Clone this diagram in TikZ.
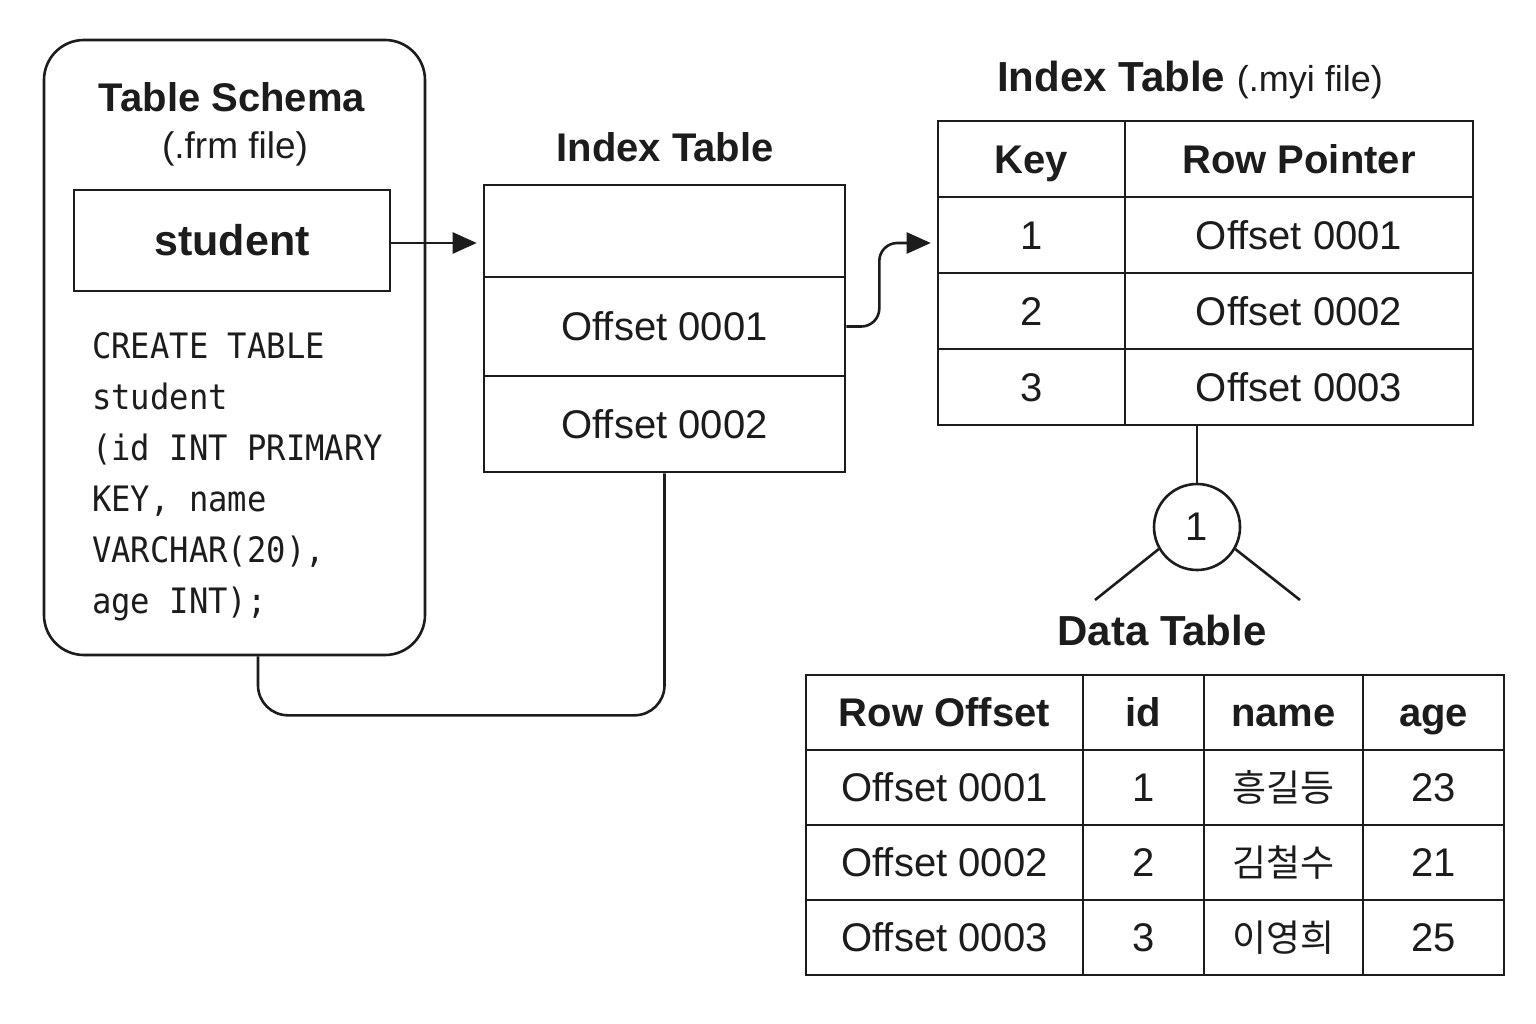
\documentclass[tikz,border=0pt]{standalone}
\usepackage{fontspec}
\setmainfont{Liberation Sans}
\newfontfamily\codefont{DejaVu Sans Mono}[FakeStretch=0.92]
\newfontfamily\krfont{Noto Sans CJK KR}
\usetikzlibrary{arrows.meta}
\definecolor{ink}{HTML}{1C1C1C}
\tikzset{
  ln/.style={draw=ink, line width=2.6pt},
  cell/.style 2 args={ln, inner sep=0pt, minimum width=#1, minimum height=#2,
    text height=28.6pt, text depth=0pt, anchor=center},
  ttl/.style={font=\fontsize{40}{48}\selectfont\bfseries, text=ink},
  txt/.style={font=\fontsize{40}{48}\selectfont, text=ink},
  sub/.style={font=\fontsize{37}{44}\selectfont, text=ink},
  krt/.style={font=\fontsize{37}{44}\krfont, text=ink, text height=27pt},
  code/.style={font=\fontsize{35}{51}\codefont, text=ink, anchor=base west, inner sep=0pt},
  arr/.style={ln, -{Triangle[length=24pt,width=21pt]}, shorten >=6pt},
}
\begin{document}
\begin{tikzpicture}[x=1pt,y=-1pt]
\useasboundingbox (0,0) rectangle (1536,1024);
\fill[white] (0,0) rectangle (1536,1024);

% Table schema
\node[ln, rounded corners=40pt, minimum width=381pt, minimum height=615pt, inner sep=0pt] (schema) at (234.5,347.5) {};
\node[ttl] (schemaT) at (232,97) {Table Schema};
\node[sub] (schemaS) at (235,149) {(.frm file)};
\node[cell={316pt}{101pt}, ttl, font=\fontsize{43}{50}\selectfont\bfseries, text height=30.8pt] (student) at (232,240.5) {student};
\node[code] (sql1) at (92,358) {CREATE TABLE};
\node[code] (sql2) at (92,409) {student};
\node[code] (sql3) at (92,460) {(id INT PRIMARY};
\node[code] (sql4) at (92,511) {KEY, name};
\node[code] (sql5) at (92,562) {VARCHAR(20),};
\node[code] (sql6) at (92,613) {age INT);};

% Index table (middle)
\node[ttl] (idxT) at (665,147) {Index Table};
\node[cell={361pt}{92pt}] (i1) at (664.5,231) {};
\node[cell={361pt}{99pt}, txt] (i2) at (664.5,326.5) {Offset 0001};
\node[cell={361pt}{96pt}, txt] (i3) at (664.5,424) {Offset 0002};

% Index table (.myi)
\node[inner sep=0pt] (myiT) at (1190,80) {\fontsize{42}{50}\selectfont\bfseries\color{ink}Index Table \fontsize{36}{42}\mdseries\selectfont(.myi file)};
\node[cell={187pt}{76pt}, ttl] (k0a) at (1031.5,159) {Key};
\node[cell={348pt}{76pt}, ttl] (k0b) at (1299,159) {Row Pointer};
\node[cell={187pt}{76pt}, txt] (k1a) at (1031.5,235) {1};
\node[cell={348pt}{76pt}, txt] (k1b) at (1299,235) {Offset 0001};
\node[cell={187pt}{76pt}, txt] (k2a) at (1031.5,311) {2};
\node[cell={348pt}{76pt}, txt] (k2b) at (1299,311) {Offset 0002};
\node[cell={187pt}{76pt}, txt] (k3a) at (1031.5,387) {3};
\node[cell={348pt}{76pt}, txt] (k3b) at (1299,387) {Offset 0003};

% circle and data table title
\node[ln, circle, minimum size=86pt, inner sep=0pt, txt] (circ) at (1197,527) {1};
\coordinate (legL) at (1095,600);
\coordinate (legR) at (1300,600);
\node[ttl, font=\fontsize{42}{50}\selectfont\bfseries] (dataT) at (1162,630) {Data Table};

% Data table
\node[cell={277pt}{75pt}, ttl] (d0a) at (944.5,712.5) {Row Offset};
\node[cell={121pt}{75pt}, ttl] (d0b) at (1143.5,712.5) {id};
\node[cell={159pt}{75pt}, ttl] (d0c) at (1283.5,712.5) {name};
\node[cell={141pt}{75pt}, ttl] (d0d) at (1433.5,712.5) {age};
\node[cell={277pt}{75pt}, txt] (d1a) at (944.5,787.5) {Offset 0001};
\node[cell={121pt}{75pt}, txt] (d1b) at (1143.5,787.5) {1};
\node[cell={159pt}{75pt}, krt] (d1c) at (1283.5,787.5) {흥길등};
\node[cell={141pt}{75pt}, txt] (d1d) at (1433.5,787.5) {23};
\node[cell={277pt}{75pt}, txt] (d2a) at (944.5,862.5) {Offset 0002};
\node[cell={121pt}{75pt}, txt] (d2b) at (1143.5,862.5) {2};
\node[cell={159pt}{75pt}, krt] (d2c) at (1283.5,862.5) {김철수};
\node[cell={141pt}{75pt}, txt] (d2d) at (1433.5,862.5) {21};
\node[cell={277pt}{75pt}, txt] (d3a) at (944.5,937.5) {Offset 0003};
\node[cell={121pt}{75pt}, txt] (d3b) at (1143.5,937.5) {3};
\node[cell={159pt}{75pt}, krt] (d3c) at (1283.5,937.5) {이영희};
\node[cell={141pt}{75pt}, txt] (d3d) at (1433.5,937.5) {25};

% connectors
\draw[arr] ([yshift=-2.5pt]student.east) -- ([yshift=-2.5pt]student.east -| i1.west);
\draw[arr, rounded corners=18pt] (i2.east) -- ++(33,0) |- ([yshift=-8pt]k1a.west);
\draw[ln] (circ.north |- k3b.south) -- (circ.north);
\draw[ln] (circ.210) -- (legL);
\draw[ln] (circ.330) -- (legR);
\draw[ln, rounded corners=30pt] ([xshift=23.5pt]schema.south) -- ++(0,59) -| (i3.south);
\end{tikzpicture}
\end{document}
